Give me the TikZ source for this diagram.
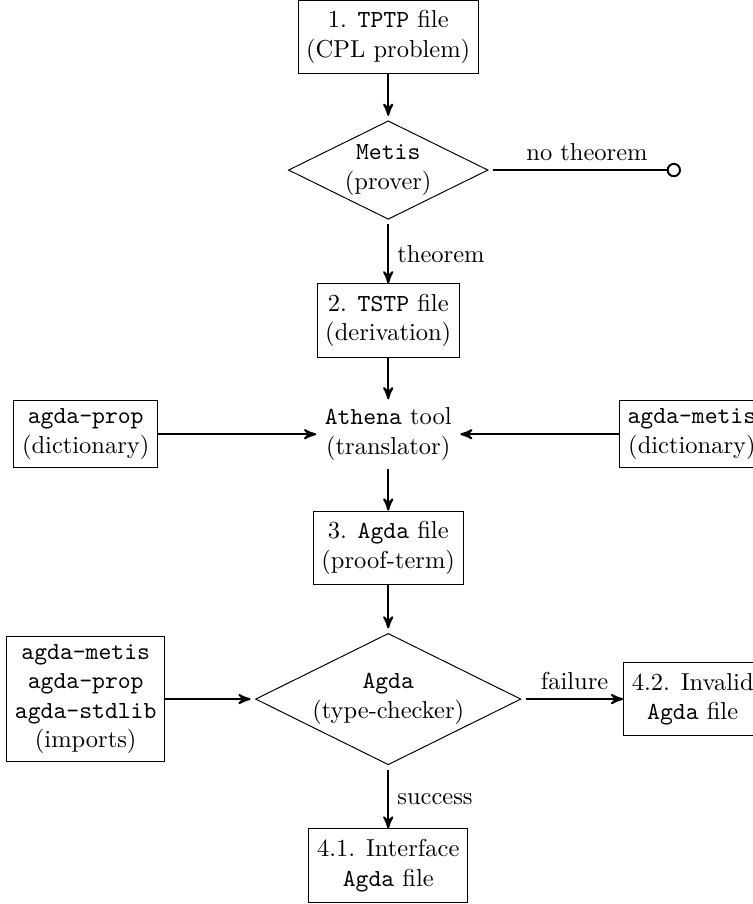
\documentclass[tikz,border=0pt]{standalone}
\usepackage{amsmath}
\usepackage{tikz}
\usetikzlibrary{arrows,shapes.geometric}

\begin{document}
\begin{tikzpicture}[>=stealth',
		block/.style={draw, rectangle, align=center, minimum height=3em},
		lib/.style={draw, rectangle, align=center},
		decision/.style={draw, diamond, aspect=2, inner sep=1pt, outer sep=1.5pt, align=center},
		tool/.style={align=center},
		flow/.style={->, thick}]
%		\draw [help lines] (0,0) grid (11,-13);
		\useasboundingbox (0,0) rectangle (10.79,-12.97);
		\node [block] (tptp) at (5.57,-0.53) {1. \texttt{TPTP} file\\(CPL problem)};
		\node [decision] (metis) at (5.57,-2.44) {\texttt{Metis}\\(prover)};
		\coordinate (nothm) at (9.77,-2.44);
		\node [block] (tstp) at (5.57,-4.60) {2. \texttt{TSTP} file\\(derivation)};
		\node [tool] (athena) at (5.57,-6.23) {\texttt{Athena} tool\\(translator)};
		\node [lib] (propdict) at (1.23,-6.23) {\texttt{agda-prop}\\(dictionary)};
		\node [lib, anchor=west] (metisdict) at (8.88,-6.23) {\texttt{agda-metis}\\(dictionary)};
		\node [block] (agdafile) at (5.57,-7.86) {3. \texttt{Agda} file\\(proof-term)};
		\node [decision] (agda) at (5.57,-10.03) {\texttt{Agda}\\(type-checker)};
		\node [lib] (imports) at (1.23,-10.03) {\texttt{agda-metis}\\\texttt{agda-prop}\\\texttt{agda-stdlib}\\(imports)};
		\node [block, anchor=west] (invalid) at (8.94,-10.03) {4.2. Invalid\\\texttt{Agda} file};
		\node [block] (iface) at (5.57,-12.42) {4.1. Interface\\\texttt{Agda} file};
		\draw [flow] (tptp) -- (metis);
		\draw [thick, -o] (metis) -- (nothm) node [pos=0.5, above] {no theorem};
		\draw [flow] (metis) -- (tstp) node [pos=0.5, right] {theorem};
		\draw [flow] (tstp) -- (athena);
		\draw [flow] (propdict) -- (athena);
		\draw [flow] (metisdict) -- (athena);
		\draw [flow] (athena) -- (agdafile);
		\draw [flow] (agdafile) -- (agda);
		\draw [flow] (imports) -- (agda);
		\draw [flow] (agda) -- (invalid) node [pos=0.5, above] {failure};
		\draw [flow] (agda) -- (iface) node [pos=0.5, right] {success};
\end{tikzpicture}
\end{document}
